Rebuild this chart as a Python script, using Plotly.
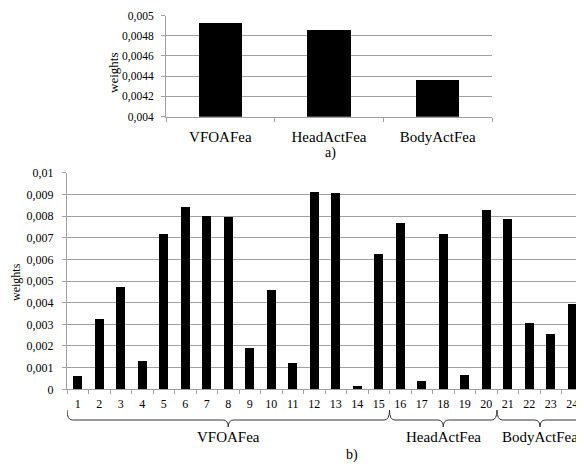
import plotly.graph_objects as go

# ---- data ----
groups = ["VFOAFea", "HeadActFea", "BodyActFea"]
group_weights = [0.00493, 0.00486, 0.00437]

feature_ids = list(range(1, 25))
feature_weights = [0.00063, 0.00328, 0.00474, 0.00134, 0.00720, 0.00843, 0.00800, 0.00798,
                   0.00192, 0.00458, 0.00123, 0.00914, 0.00908, 0.00015, 0.00628, 0.00771,
                   0.00042, 0.00720, 0.00067, 0.00831, 0.00789, 0.00306, 0.00255, 0.00397]

brace_groups = ["VFOAFea", "HeadActFea", "BodyActFea"]
brace_spans = [(0.5, 15.5), (15.5, 20.5), (20.5, 24.5)]

OFF = 8  # page body margin
W, H = 584 - OFF, 464 - OFF
FONT = "Liberation Serif"
GRID = "#a0a0a0"

def px(v):  # reference pixel y -> paper y
    return 1 - (v - OFF) / H

def pxx(v):  # reference pixel x -> paper x
    return (v - OFF) / W

fig = go.Figure()
fig.add_trace(go.Bar(x=[1, 2, 3], y=group_weights, marker=dict(color="black", line=dict(width=0)),
                     width=0.4, xaxis="x", yaxis="y", showlegend=False))
fig.add_trace(go.Bar(x=feature_ids, y=feature_weights, marker=dict(color="black", line=dict(width=0)),
                     width=0.42, xaxis="x2", yaxis="y2", showlegend=False))

def tf(size):
    return dict(family=FONT, size=size, color="black")

common = dict(showline=True, linecolor=GRID, linewidth=1, zeroline=False, automargin=False)

fig.update_layout(
    width=W, height=H, margin=dict(l=0, r=0, t=0, b=0),
    paper_bgcolor="white", plot_bgcolor="white",
    separators=",.",
    xaxis=dict(domain=[pxx(166), pxx(492)], range=[0.5, 3.5], tickvals=[1, 2, 3], ticktext=groups,
               showgrid=False, ticks="", ticklabelstandoff=6, tickfont=tf(15),
               minor=dict(tickvals=[0.5, 1.5, 2.5, 3.5], ticks="outside", ticklen=4, tickcolor=GRID, showgrid=False),
               anchor="y", **common),
    yaxis=dict(domain=[px(116.7), px(15.5)], range=[0.004, 0.0050001], tick0=0.004, dtick=0.0002, tickformat=".2~r",
               showgrid=True, gridcolor=GRID, gridwidth=1, ticks="outside", ticklen=4, tickcolor=GRID,
               ticklabelstandoff=5, ticklabeloverflow="allow", tickfont=tf(11.5), anchor="x", **common),
    xaxis2=dict(domain=[pxx(67), pxx(583)], range=[0.5, 24.5], tickvals=feature_ids,
                showgrid=False, ticks="", ticklabelstandoff=3, tickfont=tf(12),
                minor=dict(tickvals=[i + 0.5 for i in range(0, 25)], ticks="outside", ticklen=4, tickcolor=GRID, showgrid=False),
                anchor="y2", **common),
    yaxis2=dict(domain=[px(389.3), px(172.7)], range=[0, 0.01], dtick=0.001, tickformat=".2~r",
                showgrid=True, gridcolor=GRID, gridwidth=1, ticks="outside", ticklen=4, tickcolor=GRID,
                ticklabelstandoff=6, tickfont=tf(12), anchor="x2", **common),
    bargap=0,
)

def ann(text, x, y, size, xref="paper", angle=0):
    return dict(text=text, x=x, y=y, xref=xref, yref="paper", textangle=angle, showarrow=False,
                xanchor="center", yanchor="middle", font=tf(size))

annotations = [
    ann("weights", pxx(113), px(73), 13, angle=-90),
    ann("weights", pxx(16), px(282), 12, angle=-90),
    ann("a)", pxx(330), px(153), 14),
    ann("b)", pxx(352), px(455), 14),
]

shapes = []
y_top, y_mid, y_tip = px(410), px(420), px(427)
for name, (x0, x1) in zip(brace_groups, brace_spans):
    xm = (x0 + x1) / 2
    dx = 0.25
    path = (f"M {x0},{y_top} Q {x0},{y_mid} {x0 + dx},{y_mid} L {xm - dx},{y_mid} "
            f"Q {xm},{y_mid} {xm},{y_tip} Q {xm},{y_mid} {xm + dx},{y_mid} "
            f"L {x1 - dx},{y_mid} Q {x1},{y_mid} {x1},{y_top}")
    shapes.append(dict(type="path", path=path, xref="x2", yref="paper",
                       line=dict(color="#333333", width=1)))
    annotations.append(ann(name, xm, px(437), 15, xref="x2"))

fig.update_layout(annotations=annotations, shapes=shapes)
fig.write_html("out.html")
